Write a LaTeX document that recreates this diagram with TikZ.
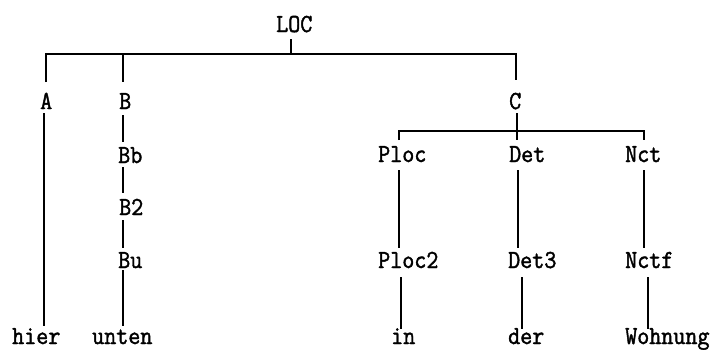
\documentclass[tikz,border=0pt]{standalone}
\usepackage{fontspec}
\setmonofont[FakeStretch=0.9,FakeBold=1.6]{Latin Modern Mono}
\begin{document}
\begin{tikzpicture}[x=1pt,y=-1pt,
  lbl/.style={anchor=base west,inner sep=0pt,font=\ttfamily\fontsize{26}{30}\selectfont},
  br/.style={line width=2pt}]
\useasboundingbox (0,0) rectangle (716,349);
% labels
\node[lbl] (LOC) at (276,32) {LOC};
\node[lbl] (A) at (40,109) {A};
\node[lbl] (B) at (119,109) {B};
\node[lbl] (C) at (509,109) {C};
\node[lbl] (Bb) at (118,163) {Bb};
\node[lbl] (B2) at (119,215) {B2};
\node[lbl] (Bu) at (118,268) {Bu};
\node[lbl] (Ploc) at (378,162) {Ploc};
\node[lbl] (Det) at (509,162) {Det};
\node[lbl] (Nct) at (625,162) {Nct};
\node[lbl] (Ploc2) at (378,268) {Ploc2};
\node[lbl] (Det3) at (508,268) {Det3};
\node[lbl] (Nctf) at (625,268) {Nctf};
\node[lbl] (hier) at (12,344) {hier};
\node[lbl] (unten) at (92,344) {unten};
\node[lbl] (in) at (391,344) {in};
\node[lbl] (der) at (508,344) {der};
\node[lbl] (Wohnung) at (625,344) {Wohnung};
% junction coordinates
\coordinate (tLOC) at (291,39);
\coordinate (j0) at (291,53.5);
\coordinate (jA) at (45.5,53.5);
\coordinate (jB) at (122.7,53.5);
\coordinate (jC) at (516,53.5);
\coordinate (eA) at (45.5,82);
\coordinate (eB) at (122.7,82);
\coordinate (eC) at (516,80);
\coordinate (sC) at (517,113);
\coordinate (kC) at (517,131);
\coordinate (kP) at (399,131);
\coordinate (kN) at (644,131);
\coordinate (eP) at (399,140);
\coordinate (eD) at (517,140);
\coordinate (eN) at (644,140);
% top level
\draw[br] (tLOC) -- (j0);
\draw[br] (eA) -- (jA) -- (jC) -- (eC);
\draw[br] (jB) -- (eB);
% A branch
\draw[br] (44,113) coordinate (a1) -- (44,326) coordinate (a2);
% B branch
\draw[br] (123,115) coordinate (b1) -- (123,142) coordinate (b2);
\draw[br] (123,167) coordinate (b3) -- (123,193) coordinate (b4);
\draw[br] (123,220) coordinate (b5) -- (123,248) coordinate (b6);
\draw[br] (123,270) coordinate (b7) -- (123,326) coordinate (b8);
% C branch
\draw[br] (sC) -- (kC);
\draw[br] (eP) -- (kP) -- (kN) -- (eN);
\draw[br] (kC) -- (eD);
\draw[br] (399,170) coordinate (p1) -- (399,248) coordinate (p2);
\draw[br] (518,170) coordinate (d1) -- (518,248) coordinate (d2);
\draw[br] (644,170) coordinate (n1) -- (644,248) coordinate (n2);
\draw[br] (401,277) coordinate (p3) -- (401,329) coordinate (p4);
\draw[br] (522,277) coordinate (d3) -- (522,329) coordinate (d4);
\draw[br] (648,277) coordinate (n3) -- (648,329) coordinate (n4);
\end{tikzpicture}
\end{document}
